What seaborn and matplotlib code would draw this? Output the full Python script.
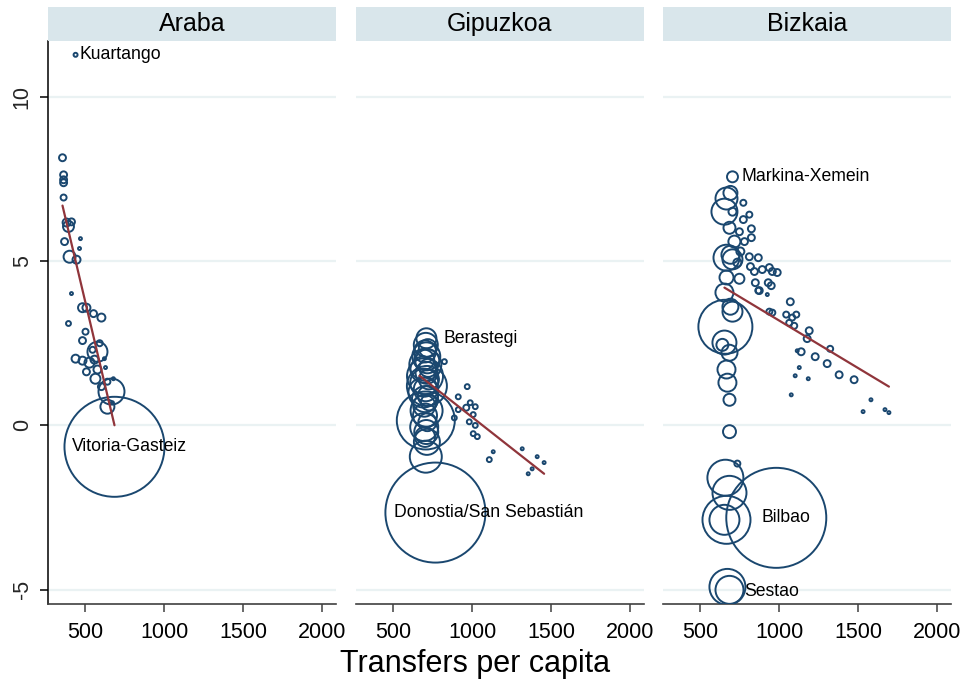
import numpy as np
import pandas as pd
import matplotlib
matplotlib.use("Agg")
import matplotlib.pyplot as plt
from matplotlib.patches import Rectangle
import seaborn as sns

# ---------------------------------------------------------------------------
# Municipal data by province: transfers per capita, outcome, population (k)
# Labelled municipalities come first in each list.
# ---------------------------------------------------------------------------
provinces = ["Araba", "Gipuzkoa", "Bizkaia"]

araba_names = ["Kuartango", "Vitoria-Gasteiz"]
araba_transfers = [437, 684, 354, 361, 361, 361, 361, 380, 392, 411, 367, 468,
                   462, 399, 443, 411, 506, 481, 551, 601, 392, 500, 481, 576,
                   437, 481, 525, 557, 620, 627, 506, 576, 563, 639, 677, 601,
                   665, 639, 671, 545, 590]
araba_outcome = [11.27, -0.65, 8.14, 7.62, 7.47, 7.38, 6.93, 6.17, 6.05, 6.19,
                 5.59, 5.68, 5.38, 5.13, 5.04, 4.01, 3.58, 3.58, 3.40, 3.28,
                 3.10, 2.85, 2.58, 2.24, 2.03, 1.97, 1.91, 2.00, 2.03, 1.76,
                 1.63, 1.70, 1.42, 1.33, 1.42, 1.18, 1.03, 0.57, 0.69, 2.30,
                 2.50]
araba_pop = [0.4, 250, 1.2, 1.2, 1.2, 1.2, 0.9, 1.6, 3.0, 1.2, 1.2, 0.22,
             0.22, 3.6, 1.6, 0.22, 1.6, 2.0, 1.2, 1.6, 0.6, 0.9, 1.2, 10.0,
             1.6, 1.6, 2.5, 1.6, 0.22, 0.22, 1.2, 1.6, 2.5, 0.9, 0.22, 1.2,
             16.9, 4.9, 0.22, 0.9, 0.9]

gipuzkoa_names = ["Berastegi", "Donostia/San Sebastián"]
gipuzkoa_transfers = [709, 766, 705, 718, 700, 708, 695, 715, 702, 720, 690,
                      710, 700, 725, 695, 712, 705, 690, 718, 700, 725, 695,
                      710, 700, 705, 715, 695, 708, 700, 712, 705,
                      823, 968, 911, 987, 1019, 911, 962, 1006, 886, 981, 1019,
                      1006, 1032, 1133, 1108, 1317, 1412, 1456, 1380, 1355]
gipuzkoa_outcome = [2.65, -2.65, 2.45, 2.35, 2.25, 2.10, 2.00, 1.95, 1.85,
                    1.75, 1.70, 1.60, 1.50, 1.40, 1.30, 1.20, 1.10, 1.00, 0.90,
                    0.80, 0.70, 0.60, 0.45, 0.30, 0.15, 0.10, -0.05, -0.20,
                    -0.35, -0.50, -0.95,
                    1.94, 1.18, 0.87, 0.69, 0.57, 0.48, 0.54, 0.33, 0.23, 0.11,
                    0.00, -0.25, -0.34, -0.80, -1.04, -0.71, -0.95, -1.13,
                    -1.32, -1.47]
gipuzkoa_pop = [10.0, 250, 14.4, 8.1, 12.1, 19.6, 10.0, 14.4, 25.6, 8.1, 16.9,
                12.1, 32.4, 10.0, 19.6, 40.0, 14.4, 22.5, 10.0, 16.9, 6.4, 12.1,
                25.6, 14.4, 84.0, 8.1, 19.6, 14.4, 10.0, 16.9, 25.6,
                0.6, 0.6, 0.6, 0.6, 0.6, 0.6, 0.9, 0.6, 0.6, 0.6, 0.6, 0.6,
                0.6, 0.22, 0.6, 0.22, 0.22, 0.22, 0.22, 0.22]

bizkaia_names = ["Markina-Xemein", "Bilbao", "Sestao"]
bizkaia_transfers = [703, 981, 684, 690, 665, 652, 772, 703, 810, 772, 684,
                     747, 823, 715, 779, 823, 665, 690, 703, 753, 810, 867,
                     734, 817, 842, 892, 937, 956, 987, 665, 747, 848, 873,
                     930, 949, 924, 652, 690, 658, 703, 652, 639, 684, 665,
                     671, 684, 684, 658, 734, 684, 665, 652, 671,
                     867, 937, 956, 1044, 1082, 1108, 1070, 1063, 1095, 1190,
                     1177, 1114, 1139, 1228, 1323, 1304, 1127, 1101, 1184,
                     1380, 1475, 1076, 1582, 1532, 1671, 1696]
bizkaia_outcome = [7.56, -2.81, -5.00, 7.07, 6.90, 6.50, 6.77, 6.50, 6.41,
                   6.26, 6.01, 5.89, 5.98, 5.59, 5.59, 5.71, 5.10, 5.19, 5.05,
                   5.29, 5.13, 5.10, 4.95, 4.83, 4.68, 4.74, 4.80, 4.68, 4.65,
                   4.50, 4.46, 4.34, 4.10, 4.34, 4.25, 3.98, 4.04, 3.61, 3.00,
                   3.46, 2.52, 2.45, 2.21, 1.70, 1.30, 0.78, -0.19, -1.59,
                   -1.16, -2.05, -2.87, -2.87, -4.91,
                   4.10, 3.46, 3.43, 3.37, 3.28, 3.37, 3.76, 3.12, 3.03, 2.88,
                   2.64, 2.27, 2.24, 2.09, 2.33, 1.88, 1.76, 1.51, 1.42, 1.54,
                   1.39, 0.93, 0.78, 0.42, 0.48, 0.39]
bizkaia_pop = [3.0, 250, 19.6, 4.9, 12.1, 16.9, 0.9, 1.6, 0.9, 1.2, 3.6, 1.2,
               1.2, 3.6, 1.2, 1.2, 16.9, 8.1, 10.0, 1.6, 1.2, 1.2, 1.6, 1.2,
               1.2, 1.2, 1.2, 1.2, 1.2, 4.9, 2.5, 1.2, 1.2, 1.2, 1.2, 0.22,
               8.1, 6.4, 72.9, 10.0, 14.4, 3.6, 6.4, 8.1, 8.1, 3.6, 4.2, 32.4,
               0.9, 28.9, 57.6, 22.5, 32.4,
               0.9, 0.9, 0.9, 0.9, 0.9, 0.9, 1.2, 0.9, 0.9, 1.2, 1.2, 0.22,
               1.2, 1.2, 0.9, 1.2, 0.22, 0.22, 0.22, 1.2, 1.2, 0.22, 0.22,
               0.22, 0.22, 0.22]

# Population-weighted linear fits (intercept, slope, fitted x range)
fit_intercept = [13.85, 4.015, 6.07]
fit_slope = [-0.02024, -0.003767, -0.002883]
fit_xmin = [354, 665, 652]
fit_xmax = [684, 1456, 1696]

x_ticks = [500, 1000, 1500, 2000]
y_ticks = [-5, 0, 5, 10]


def province_frame(name, transfers, outcome, pop, labels):
    names = labels + [""] * (len(transfers) - len(labels))
    return pd.DataFrame({"province": name, "transfers": transfers,
                         "outcome": outcome, "pop": pop, "name": names})


df = pd.concat([
    province_frame("Araba", araba_transfers, araba_outcome, araba_pop, araba_names),
    province_frame("Gipuzkoa", gipuzkoa_transfers, gipuzkoa_outcome, gipuzkoa_pop, gipuzkoa_names),
    province_frame("Bizkaia", bizkaia_transfers, bizkaia_outcome, bizkaia_pop, bizkaia_names),
], ignore_index=True)

# ---------------------------------------------------------------------------
# Styling
# ---------------------------------------------------------------------------
sns.set_theme(style="white")
plt.rcParams["font.family"] = ["Liberation Sans", "DejaVu Sans"]

NAVY = "#1a476f"
MAROON = "#90353b"
STRIP = "#d9e6eb"
GRID = "#eaf2f3"

W, H = 968, 684
fig = plt.figure(figsize=(W / 100, H / 100), dpi=100)
fig.patch.set_facecolor("white")

panel_left = [48, 356, 663]
panel_w = 288
ax_bottom, ax_top = 604, 41
strip_top = 7

# label text offsets (points) relative to the labelled marker
label_offsets = {
    "Kuartango": (3, 0), "Vitoria-Gasteiz": (-31, 0),
    "Berastegi": (12, 0), "Donostia/San Sebastián": (-30, 0),
    "Markina-Xemein": (6.5, 0), "Bilbao": (-11, 0), "Sestao": (10.5, -1.5),
}

# area scale: marker area in pt^2 proportional to population
size_max_pop = 250
size_max_area = 20.74 * size_max_pop

for i, prov in enumerate(provinces):
    left = panel_left[i] / W
    ax = fig.add_axes([left, 1 - ax_bottom / H, panel_w / W,
                       (ax_bottom - ax_top) / H])
    sub = df[df["province"] == prov]

    for yv in y_ticks:
        ax.axhline(yv, color=GRID, lw=1.6, zorder=0)

    sns.scatterplot(data=sub, x="transfers", y="outcome", size="pop",
                    sizes=(0, size_max_area), size_norm=(0, size_max_pop),
                    color=NAVY, facecolor="none", edgecolor=NAVY,
                    linewidth=1.4, legend=False, ax=ax, zorder=3)

    fx = np.array([fit_xmin[i], fit_xmax[i]], dtype=float)
    fy = fit_intercept[i] + fit_slope[i] * fx
    sns.lineplot(x=fx, y=fy, color=MAROON, lw=1.6, ax=ax, zorder=4)

    for _, row in sub[sub["name"] != ""].iterrows():
        dx, dy = label_offsets[row["name"]]
        ax.annotate(row["name"], (row["transfers"], row["outcome"]),
                    xytext=(dx, dy), textcoords="offset points",
                    ha="left", va="center", fontsize=12.7, color="black",
                    zorder=5)

    ax.set_xlim(262, 2090)
    ax.set_ylim(-5.43, 11.69)
    ax.set_xticks(x_ticks)
    ax.set_xticklabels([str(t) for t in x_ticks])
    ax.set_xlabel("")
    ax.set_ylabel("")
    ax.set_facecolor("white")
    for side in ["top", "right"]:
        ax.spines[side].set_visible(False)
    ax.spines["bottom"].set_color("#404040")
    ax.spines["bottom"].set_linewidth(1.2)
    ax.tick_params(axis="x", which="major", direction="out", length=6,
                   width=1.1, color="#404040", labelsize=15.5, pad=7,
                   bottom=True, labelcolor="black")
    if i == 0:
        ax.spines["left"].set_color("black")
        ax.spines["left"].set_linewidth(1.1)
        ax.set_yticks(y_ticks)
        ax.set_yticklabels([str(t) for t in y_ticks], rotation=90, va="center")
        ax.tick_params(axis="y", direction="out", length=6, width=1.1,
                       color="black", labelsize=15.5, pad=5, left=True)
    else:
        ax.spines["left"].set_visible(False)
        ax.set_yticks(y_ticks)
        ax.tick_params(axis="y", left=False, labelleft=False)
    ax.grid(False)

    # facet title strip
    sax = fig.add_axes([left, 1 - ax_top / H, panel_w / W,
                        (ax_top - strip_top) / H])
    sax.add_patch(Rectangle((0, 0), 1, 1, transform=sax.transAxes,
                            facecolor=STRIP, edgecolor="none"))
    sax.set_axis_off()
    sax.text(0.5, 0.5, prov, ha="center", va="center", fontsize=18,
             color="black", transform=sax.transAxes)

fig.text(475 / W, 1 - 664 / H, "Transfers per capita", ha="center",
         va="center", fontsize=22, color="black")

fig.savefig("out.png", dpi=100, facecolor="white")
